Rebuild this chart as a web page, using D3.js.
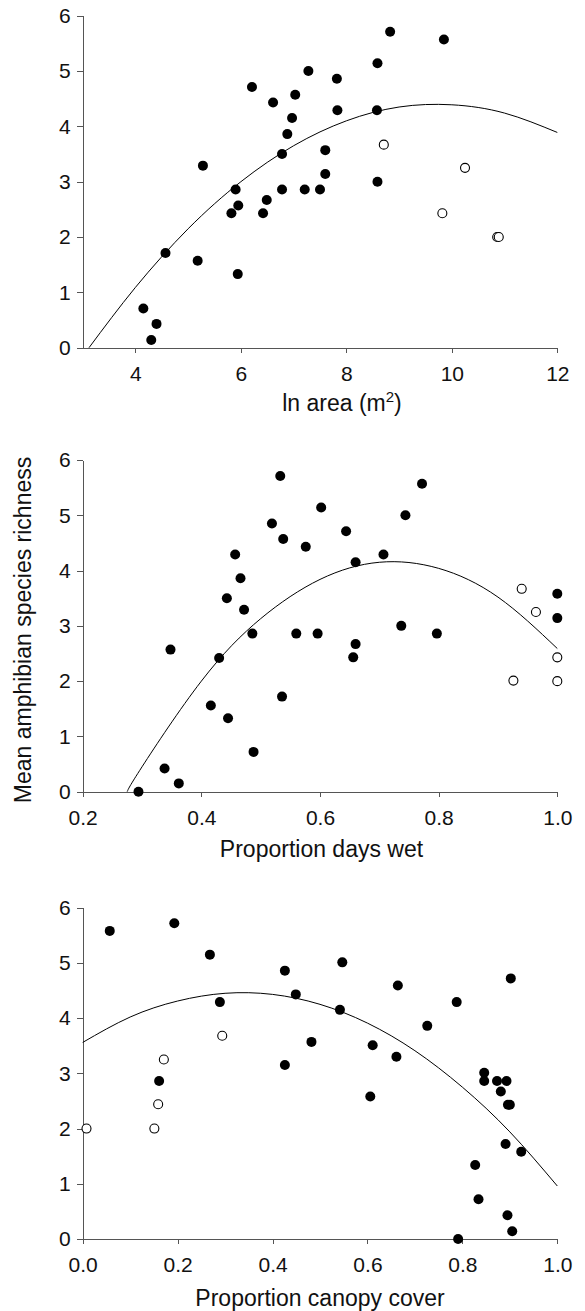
<!DOCTYPE html>
<html>
<head>
<meta charset="utf-8">
<title>Amphibian species richness</title>
<script src="https://d3js.org/d3.v7.min.js"></script>
<style>
  body { margin: 0; background: white; }
  svg { display: block; font-family: "Liberation Sans", Arial, Helvetica, sans-serif; }
  .axis path, .axis line { stroke: #555; shape-rendering: crispEdges; }
  .axis text { font-size: 21px; fill: #111; font-family: "Liberation Sans", Arial, Helvetica, sans-serif; }
</style>
</head>
<body>
<div id="plot"></div>
<script>
// ---- data ----
// panel 1: ln area (m2)
var areaFilled = [
  [4.15,0.71],[4.40,0.43],[4.30,0.14],[4.57,1.71],[5.18,1.57],[5.28,3.29],
  [5.94,1.33],[5.82,2.43],[5.90,2.86],[5.95,2.57],[6.21,4.71],[6.42,2.43],
  [6.49,2.67],[6.61,4.43],[6.78,2.86],[6.78,3.50],[6.88,3.86],[6.97,4.15],
  [7.03,4.57],[7.21,2.86],[7.50,2.86],[7.28,5.00],[7.60,3.57],[7.60,3.14],
  [7.82,4.86],[7.83,4.29],[8.59,5.14],[8.58,4.29],[8.59,3.00],[8.83,5.71],
  [9.85,5.57]
]
var areaOpen = [[8.71,3.67],[10.25,3.25],[9.82,2.43],[10.86,2.00],[10.89,2.00]]
var areaFit = [[3.12,0],[4,1.09],[5,2.15],[6,3.00],[7,3.65],[8,4.10],[9,4.35],[10,4.39],[11,4.24],[12,3.89]]

// panel 2: proportion days wet
var wetFilled = [
  [0.294,0],[0.338,0.42],[0.362,0.15],[0.348,2.57],[0.416,1.56],[0.430,2.42],
  [0.445,1.33],[0.443,3.50],[0.457,4.29],[0.466,3.86],[0.472,3.29],[0.486,2.86],
  [0.488,0.72],[0.519,4.85],[0.533,5.71],[0.538,4.57],[0.536,1.72],[0.560,2.86],
  [0.596,2.86],[0.576,4.43],[0.602,5.14],[0.644,4.71],[0.660,4.15],[0.660,2.67],
  [0.656,2.43],[0.707,4.29],[0.744,5.00],[0.772,5.57],[0.737,3.00],[0.797,2.86],
  [1.0,3.58],[1.0,3.14]
]
var wetOpen = [[0.940,3.67],[0.964,3.25],[1.0,2.43],[0.926,2.01],[1.0,2.00]]
var wetFit = [[0.275,0],[0.3,0.45],[0.4,2.00],[0.5,3.13],[0.6,3.84],[0.7,4.15],[0.8,4.04],[0.9,3.52],[1.0,2.59]]

// panel 3: proportion canopy cover
var canopyFilled = [
  [0.057,5.58],[0.193,5.72],[0.268,5.15],[0.289,4.29],[0.426,4.86],[0.449,4.43],
  [0.426,3.15],[0.161,2.86],[0.482,3.57],[0.547,5.01],[0.542,4.15],[0.606,2.58],
  [0.611,3.51],[0.661,3.30],[0.664,4.59],[0.726,3.86],[0.788,4.29],[0.902,4.72],
  [0.846,3.01],[0.846,2.86],[0.873,2.86],[0.893,2.86],[0.881,2.67],[0.896,2.43],
  [0.900,2.43],[0.891,1.72],[0.924,1.58],[0.827,1.34],[0.834,0.72],[0.895,0.43],
  [0.905,0.14],[0.791,0.0]
]
var canopyOpen = [[0.008,2.00],[0.151,2.00],[0.159,2.44],[0.171,3.25],[0.294,3.68]]
var canopyFit = [[0,3.56],[0.1,4.02],[0.2,4.31],[0.3,4.45],[0.4,4.43],[0.5,4.25],[0.6,3.91],[0.7,3.41],[0.8,2.75],[0.9,1.94],[1.0,0.96]]

var yTicks = [0,1,2,3,4,5,6]
var areaTicks = [4,6,8,10,12]
var propTicks = [0.2,0.4,0.6,0.8,1.0]
var canopyTicks = [0,0.2,0.4,0.6,0.8,1.0]

var W = 585, H = 1311
var left = 82.7, right = 557.3

var svg = d3.select('#plot').append('svg')
  .attr('width', W)
  .attr('height', H)

var panels = [
  {xd:[3,12], top:15.7, bottom:347.7, ticks:areaTicks, fmt:d3.format('d'),
   filled:areaFilled, open:areaOpen, fit:areaFit, titleX:342, titleDy:63, title:'area'},
  {xd:[0.2,1.0], top:460, bottom:791.7, ticks:propTicks, fmt:d3.format('.1f'),
   filled:wetFilled, open:wetOpen, fit:wetFit, titleX:321.5, titleDy:65, title:'Proportion days wet'},
  {xd:[0,1], top:907.7, bottom:1239, ticks:canopyTicks, fmt:d3.format('.1f'),
   filled:canopyFilled, open:canopyOpen, fit:canopyFit, titleX:320, titleDy:66.5, title:'Proportion canopy cover'}
]

panels.forEach(function(p) {
  var x = d3.scaleLinear().domain(p.xd).range([left, right])
  var y = d3.scaleLinear().domain([0,6]).range([p.bottom, p.top])
  var g = svg.append('g')

  g.append('g')
    .attr('class','axis')
    .attr('transform','translate(0,'+p.bottom+')')
    .call(d3.axisBottom(x).tickValues(p.ticks).tickFormat(p.fmt).tickSize(5).tickSizeOuter(0).tickPadding(13))

  g.append('g')
    .attr('class','axis')
    .attr('transform','translate('+left+',0)')
    .call(d3.axisLeft(y).tickValues(yTicks).tickFormat(d3.format('d')).tickSize(6).tickSizeOuter(0).tickPadding(6))

  // fitted curve
  var line = d3.line()
    .x(function(d){return x(d[0])})
    .y(function(d){return y(d[1])})
    .curve(d3.curveNatural)
  g.append('path')
    .datum(p.fit)
    .attr('d', line)
    .attr('fill','none')
    .attr('stroke','black')
    .attr('stroke-width',1)

  g.selectAll('.filled')
    .data(p.filled)
    .enter()
    .append('circle')
      .attr('class','filled')
      .attr('cx', function(d){return x(d[0])})
      .attr('cy', function(d){return y(d[1])})
      .attr('r', 5)
      .attr('fill','black')

  g.selectAll('.open')
    .data(p.open)
    .enter()
    .append('circle')
      .attr('class','open')
      .attr('cx', function(d){return x(d[0])})
      .attr('cy', function(d){return y(d[1])})
      .attr('r', 4.5)
      .attr('fill','white')
      .attr('stroke','black')
      .attr('stroke-width',1.1)

  var t = g.append('text')
    .attr('x', p.titleX)
    .attr('y', p.bottom + p.titleDy)
    .attr('text-anchor','middle')
    .attr('font-size', 23)
    .attr('fill','#111')
  if (p.title === 'area') {
    t.append('tspan').text('ln area (m')
    t.append('tspan').attr('font-size',15).attr('dy',-9).text('2')
    t.append('tspan').attr('dy',9).text(')')
  } else {
    t.text(p.title)
  }
})

svg.append('text')
  .attr('transform','translate(30.5,630) rotate(-90)')
  .attr('text-anchor','middle')
  .attr('font-size', 23)
  .attr('fill','#111')
  .text('Mean amphibian species richness')
</script>
</body>
</html>
